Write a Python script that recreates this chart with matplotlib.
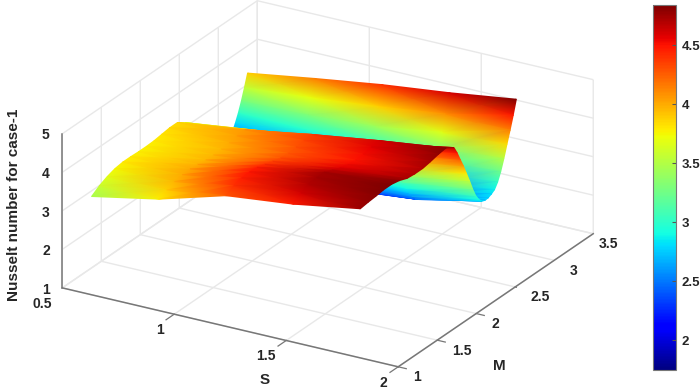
import numpy as np
import matplotlib
matplotlib.use("Agg")
import matplotlib.pyplot as plt
from mpl_toolkits.mplot3d import proj3d

plt.rcParams['font.family'] = ['Liberation Sans', 'DejaVu Sans']
plt.rcParams['font.weight'] = 'bold'

s_values = np.array([0.61, 0.91, 1.21, 1.51, 1.81])
m_values = np.array([1.06, 1.16, 1.26, 1.36, 1.46, 1.56, 1.66, 1.76, 1.86, 1.96, 2.06, 2.16,
                     2.26, 2.3, 2.34, 2.38, 2.42, 2.46, 2.5, 2.54, 2.58,
                     2.62, 2.66, 2.7, 2.74, 2.78, 2.82, 2.86, 2.9, 2.94,
                     2.98, 3.02, 3.06])

# Nusselt number, one row per S, one column per M
nu_s06 = [3.44, 3.58, 3.68, 3.75, 3.78, 3.78, 3.77, 3.77, 3.78, 3.81, 3.84, 3.84,
          3.70, 3.58, 3.42, 3.25, 3.08, 2.92, 2.78, 2.66, 2.56,
          2.48, 2.42, 2.38, 2.37, 2.40, 2.48, 2.60, 2.78, 3.00,
          3.26, 3.56, 3.88]
nu_s09 = [3.78, 3.88, 3.96, 4.00, 4.01, 3.99, 3.97, 3.96, 3.97, 4.00, 4.04, 4.06,
          3.92, 3.78, 3.58, 3.36, 3.14, 2.94, 2.76, 2.60, 2.46,
          2.35, 2.27, 2.22, 2.20, 2.24, 2.33, 2.50, 2.70, 2.98,
          3.30, 3.70, 4.15]
nu_s12 = [4.28, 4.40, 4.46, 4.48, 4.46, 4.40, 4.34, 4.29, 4.27, 4.29, 4.33, 4.35,
          4.13, 3.95, 3.72, 3.48, 3.22, 2.99, 2.78, 2.58, 2.42,
          2.30, 2.21, 2.16, 2.15, 2.20, 2.31, 2.50, 2.74, 3.05,
          3.42, 3.88, 4.40]
nu_s15 = [4.47, 4.62, 4.70, 4.74, 4.74, 4.66, 4.58, 4.53, 4.50, 4.52, 4.57, 4.60,
          4.32, 4.10, 3.86, 3.60, 3.33, 3.10, 2.90, 2.72, 2.57,
          2.45, 2.38, 2.35, 2.37, 2.43, 2.56, 2.76, 3.02, 3.32,
          3.68, 4.10, 4.60]
nu_s18 = [4.76, 4.79, 4.81, 4.84, 4.84, 4.80, 4.72, 4.70, 4.70, 4.74, 4.79, 4.82,
          4.69, 4.50, 4.27, 4.05, 3.80, 3.55, 3.28, 3.05, 2.90,
          2.80, 2.77, 2.78, 2.82, 2.88, 3.02, 3.24, 3.52, 3.84,
          4.15, 4.48, 4.84]

s_ticks = [0.5, 1, 1.5, 2]
m_ticks = [1, 1.5, 2, 2.5, 3, 3.5]
z_ticks = [1, 2, 3, 4, 5]
cbar_ticks = [2, 2.5, 3, 3.5, 4, 4.5]
cbar_min = 1.75
cbar_max = 4.84

GRID = '#e8e8e8'
AXIS = '#777777'
TEXT = '#262626'

fig = plt.figure(figsize=(7, 3.88), dpi=100)

# position in pixels so the box corners land where they do in the reference
ax = fig.add_axes([128.5/700, 5/388, 388/700, 388/388], projection='3d',
                  proj_type='ortho')
ax.set_box_aspect((389.6, 385.5, 168.2), zoom=1.434)
ax.view_init(elev=23.6, azim=-59.6)
ax.set_xlim(0.5, 2, view_margin=0)
ax.set_ylim(1, 3.5, view_margin=0)
ax.set_zlim(1, 5, view_margin=0)
ax.patch.set_alpha(0)

ax.set_xticks(s_ticks, [str(v) for v in s_ticks])
ax.set_yticks(m_ticks, [str(v) for v in m_ticks])
ax.set_zticks(z_ticks, [str(v) for v in z_ticks])
ax.zaxis.set_ticks_position('lower')

for axis in (ax.xaxis, ax.yaxis, ax.zaxis):
    axis.set_pane_color((1, 1, 1, 0))
    axis.pane.set_edgecolor(GRID)
    axis.line.set_color(AXIS)
    axis.line.set_linewidth(1.1)
    axis._axinfo['grid'].update(color=GRID, linewidth=1.0)
    axis._axinfo['tick'].update(inward_factor=0.0, outward_factor=0.0)
    axis.set_tick_params(labelsize=10, colors=TEXT)

ax.xaxis.set_tick_params(pad=0)
ax.yaxis.set_tick_params(pad=-1.5)
ax.zaxis.set_tick_params(pad=-3.5)
for tick in ax.xaxis.get_major_ticks():
    tick.label1.set_ha('right')
    tick.label1.set_va('center')
for tick in ax.yaxis.get_major_ticks():
    tick.label1.set_ha('left')
    tick.label1.set_va('center')
ax.yaxis.get_major_ticks()[-1].label1.set_ha('center')
for tick in ax.zaxis.get_major_ticks():
    tick.label1.set_va('center')

# the tick marks, each pointing out of the box along the other floor axis
for v in s_ticks:
    ax.plot([v, v], [1, 0.895], [1, 1], color=AXIS, lw=0.9)
for v in m_ticks:
    ax.plot([2, 2.036], [v, v], [1, 1], color=AXIS, lw=0.9)
for v in z_ticks:
    ax.plot([0.5, 0.464], [1, 1], [v, v], color=AXIS, lw=0.9)

fig.canvas.draw()

# surface goes on a flat overlay so gouraud shading can blend the read values
overlay = fig.add_axes([0, 0, 1, 1], zorder=3)
overlay.set_xlim(0, 700)
overlay.set_ylim(0, 388)
overlay.axis('off')

nu = np.array([nu_s06, nu_s09, nu_s12, nu_s15, nu_s18])
ss, mm = np.meshgrid(s_values, m_values, indexing='ij')
xp, yp, _ = proj3d.proj_transform(ss.ravel(), mm.ravel(), nu.ravel(), ax.get_proj())
pix = ax.transData.transform(np.column_stack([xp, yp]))
px = pix[:, 0].reshape(ss.shape)
py = pix[:, 1].reshape(ss.shape)

# far strips first, so the front ridge covers the back wall
for j in range(len(m_values) - 2, -1, -1):
    mesh = overlay.pcolormesh(px[:, j:j+2], py[:, j:j+2], nu[:, j:j+2],
                              shading='gouraud', cmap='jet',
                              vmin=cbar_min, vmax=cbar_max)

cax = fig.add_axes([653/700, (388-370)/388, 23/700, 365/388], zorder=4)
cbar = fig.colorbar(mesh, cax=cax, ticks=cbar_ticks)
cbar.ax.set_yticklabels([str(v) for v in cbar_ticks])
cbar.ax.tick_params(direction='in', length=3, width=0.8, color='#555555',
                    labelsize=9.5, labelcolor=TEXT, pad=4)
cbar.outline.set_edgecolor('#777777')
cbar.outline.set_linewidth(0.8)

fig.text(14/700, 1 - 205/388, 'Nusselt number for case-1', rotation=90,
         ha='center', va='center', fontsize=11, color=TEXT)
fig.text(265/700, 1 - 380/388, 'S', ha='center', va='center', fontsize=11, color=TEXT)
fig.text(499/700, 1 - 366/388, 'M', ha='center', va='center', fontsize=11, color=TEXT)

fig.savefig('out.png', dpi=100)
